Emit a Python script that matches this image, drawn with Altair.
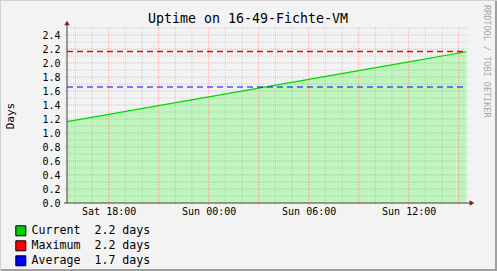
import altair as alt
import pandas as pd

# ---- data (hours since Saturday 00:00) ----
hours = [15.5, 18.0, 21.0, 24.0, 27.0, 30.0, 33.0, 36.0, 38.85, 38.95, 39.47]
uptime = [1.163, 1.267, 1.392, 1.517, 1.642, 1.767, 1.892, 2.017, 2.136, 2.140, 2.161]
segment = [1, 1, 1, 1, 1, 1, 1, 1, 1, 2, 2]

max_value = [2.164]
avg_value = [1.657]

x_label_values = [18, 24, 30, 36]
x_label_texts = ["Sat 18:00", "Sun 00:00", "Sun 06:00", "Sun 12:00"]
x_minor = [16, 17, 19, 20, 22, 23, 25, 26, 28, 29, 31, 32, 34, 35, 37, 38]
x_major = [18, 21, 24, 27, 30, 33, 36, 39]
y_major = [0.2, 0.4, 0.6, 0.8, 1.0, 1.2, 1.4, 1.6, 1.8, 2.0, 2.2, 2.4]
y_minor = [0.1, 0.3, 0.5, 0.7, 0.9, 1.1, 1.3, 1.5, 1.7, 1.9, 2.1, 2.3, 2.5]
y_label_values = [0.0, 0.2, 0.4, 0.6, 0.8, 1.0, 1.2, 1.4, 1.6, 1.8, 2.0, 2.2, 2.4]

legend_names = ["Current", "Maximum", "Average"]
legend_values = ["2.2 days", "2.2 days", "1.7 days"]
legend_colors = ["#00CC00", "#FF0000", "#0000FF"]

title_text = "Uptime on 16-49-Fichte-VM"
y_title = "Days"
watermark = "RRDTOOL / TOBI OETIKER"

FONT = "DejaVu Sans Mono"
W, H = 400, 175

df = pd.DataFrame({"h": hours, "v": uptime, "seg": segment})
legend_labels = [f"{n}\u00a0\u00a0{v}" for n, v in zip(legend_names, legend_values)]
legend_df = pd.DataFrame({"label": legend_labels})

xs = alt.Scale(domain=[15.5, 39.5], nice=False, zero=False)
ys = alt.Scale(domain=[0, 2.5], nice=False, zero=True)

label_expr = " : ".join(
    f"datum.value == {v} ? '{t}'" for v, t in zip(x_label_values, x_label_texts)
) + " : ''"

AX_X = alt.Axis(values=x_label_values, labelExpr=label_expr, title=None,
                grid=False, ticks=False, domain=False, labelFont=FONT,
                labelFontSize=10, labelColor="black", labelPadding=3,
                labelOverlap=False)
AX_Y = alt.Axis(values=y_label_values, format=".1f", title=y_title,
                grid=False, ticks=False, domain=False, labelFont=FONT,
                labelFontSize=10, labelColor="black", labelPadding=7,
                labelOverlap=False, labelBound=False,
                titleFont=FONT, titleFontSize=11, titleFontWeight="normal",
                titleColor="black", titleX=-57, titleY=H / 2, titleAngle=-90,
                titleAlign="center", titleBaseline="middle")


def X(field="h"):
    return alt.X(f"{field}:Q", scale=xs, axis=AX_X, title=None)


def Y(field="v"):
    return alt.Y(f"{field}:Q", scale=ys, axis=AX_Y, title=y_title)


area = alt.Chart(df).mark_area(color="#C0F5C0", opacity=1).encode(
    x=X(), y=Y(), detail="seg:N",
)

grid_style = dict(strokeDash=[1, 1], strokeWidth=1)
xminor = alt.Chart(pd.DataFrame({"h": x_minor})).mark_rule(
    color="#8C8C8C", opacity=0.35, **grid_style
).encode(x=X(), y=alt.value(0), y2=alt.value(H + 2))
xmajor = alt.Chart(pd.DataFrame({"h": x_major})).mark_rule(
    color="#FF3030", opacity=0.35, **grid_style
).encode(x=X(), y=alt.value(0), y2=alt.value(H + 2))
yminor = alt.Chart(pd.DataFrame({"v": y_minor})).mark_rule(
    color="#8C8C8C", opacity=0.35, **grid_style
).encode(y=Y(), x=alt.value(0), x2=alt.value(W + 2))
ymajor = alt.Chart(pd.DataFrame({"v": y_major})).mark_rule(
    color="#FF3030", opacity=0.35, **grid_style
).encode(y=Y(), x=alt.value(-2), x2=alt.value(W + 2))

line = alt.Chart(df).mark_line(color="#00D800", strokeWidth=1.2).encode(x=X(), y=Y())

max_rule = alt.Chart(pd.DataFrame({"v": max_value})).mark_rule(
    color="#FF0000", strokeDash=[6, 4], strokeWidth=1.4
).encode(y=Y(), x=alt.value(0), x2=alt.value(W))
avg_rule = alt.Chart(pd.DataFrame({"v": avg_value})).mark_rule(
    color="#0000FF", strokeDash=[6, 4], strokeWidth=1.2
).encode(y=Y(), x=alt.value(0), x2=alt.value(W))

axis_color = "#404040"
arrow_color = "#8B1A1A"
one = pd.DataFrame({"k": [0]})
y_axis_line = alt.Chart(one).mark_rule(color=axis_color).encode(
    x=alt.value(0), y=alt.value(-4), y2=alt.value(H))
x_axis_line = alt.Chart(one).mark_rule(color=axis_color).encode(
    x=alt.value(-3), x2=alt.value(W + 3), y=alt.value(H))
up_arrow = alt.Chart(one).mark_point(
    shape="triangle-up", filled=True, color=arrow_color, size=30, opacity=1
).encode(x=alt.value(0), y=alt.value(-5))
right_arrow = alt.Chart(one).mark_point(
    shape="triangle-right", filled=True, color=arrow_color, size=30, opacity=1
).encode(x=alt.value(W + 5), y=alt.value(H))

title_mark = alt.Chart(pd.DataFrame({"t": [title_text]})).mark_text(
    align="center", baseline="middle", font=FONT, fontSize=13.3, color="black"
).encode(text="t:N", x=alt.value(181), y=alt.value(-9))

wm = alt.Chart(pd.DataFrame({"t": [watermark]})).mark_text(
    angle=90, align="left", baseline="middle", font=FONT, fontSize=8.5, color="#A8A8A8"
).encode(text="t:N", x=alt.value(420), y=alt.value(-23))

border_r = alt.Chart(one).mark_rule(color="#A0A0A0", strokeWidth=2).encode(
    x=alt.value(429), y=alt.value(-28), y2=alt.value(243))
border_b = alt.Chart(one).mark_rule(color="#A0A0A0", strokeWidth=2).encode(
    y=alt.value(242), x=alt.value(-67), x2=alt.value(430))
border_l = alt.Chart(one).mark_rule(color="#D0D0D0", strokeWidth=1).encode(
    x=alt.value(-66.5), y=alt.value(-28), y2=alt.value(243))
border_t = alt.Chart(one).mark_rule(color="#D0D0D0", strokeWidth=1).encode(
    y=alt.value(-27.5), x=alt.value(-67), x2=alt.value(430))

legend_layer = alt.Chart(legend_df).mark_point(
    shape="square", filled=True, opacity=0
).encode(
    color=alt.Color(
        "label:N",
        scale=alt.Scale(domain=legend_labels, range=legend_colors),
        legend=alt.Legend(
            orient="none", legendX=-52, legendY=197, title=None, direction="vertical",
            symbolType="square", symbolSize=100, symbolStrokeColor="black",
            symbolStrokeWidth=1, symbolOpacity=1, labelFont=FONT, labelFontSize=11.6,
            labelColor="black", labelOffset=5, rowPadding=0, padding=0,
        ),
    )
)

chart = alt.layer(
    area, xminor, xmajor, yminor, ymajor, line, max_rule, avg_rule,
    y_axis_line, x_axis_line, up_arrow, right_arrow, title_mark, wm,
    border_r, border_b, border_l, border_t, legend_layer,
).properties(
    width=W, height=H,
    autosize=alt.AutoSizeParams(type="none"),
    padding={"left": 67, "top": 28, "right": 30, "bottom": 68},
    background="#F3F3F3",
).configure_view(fill="white", stroke=None).configure_axis(labelOverlap=False)

chart.save("out.html", embed_options={"renderer": "svg", "actions": False})
